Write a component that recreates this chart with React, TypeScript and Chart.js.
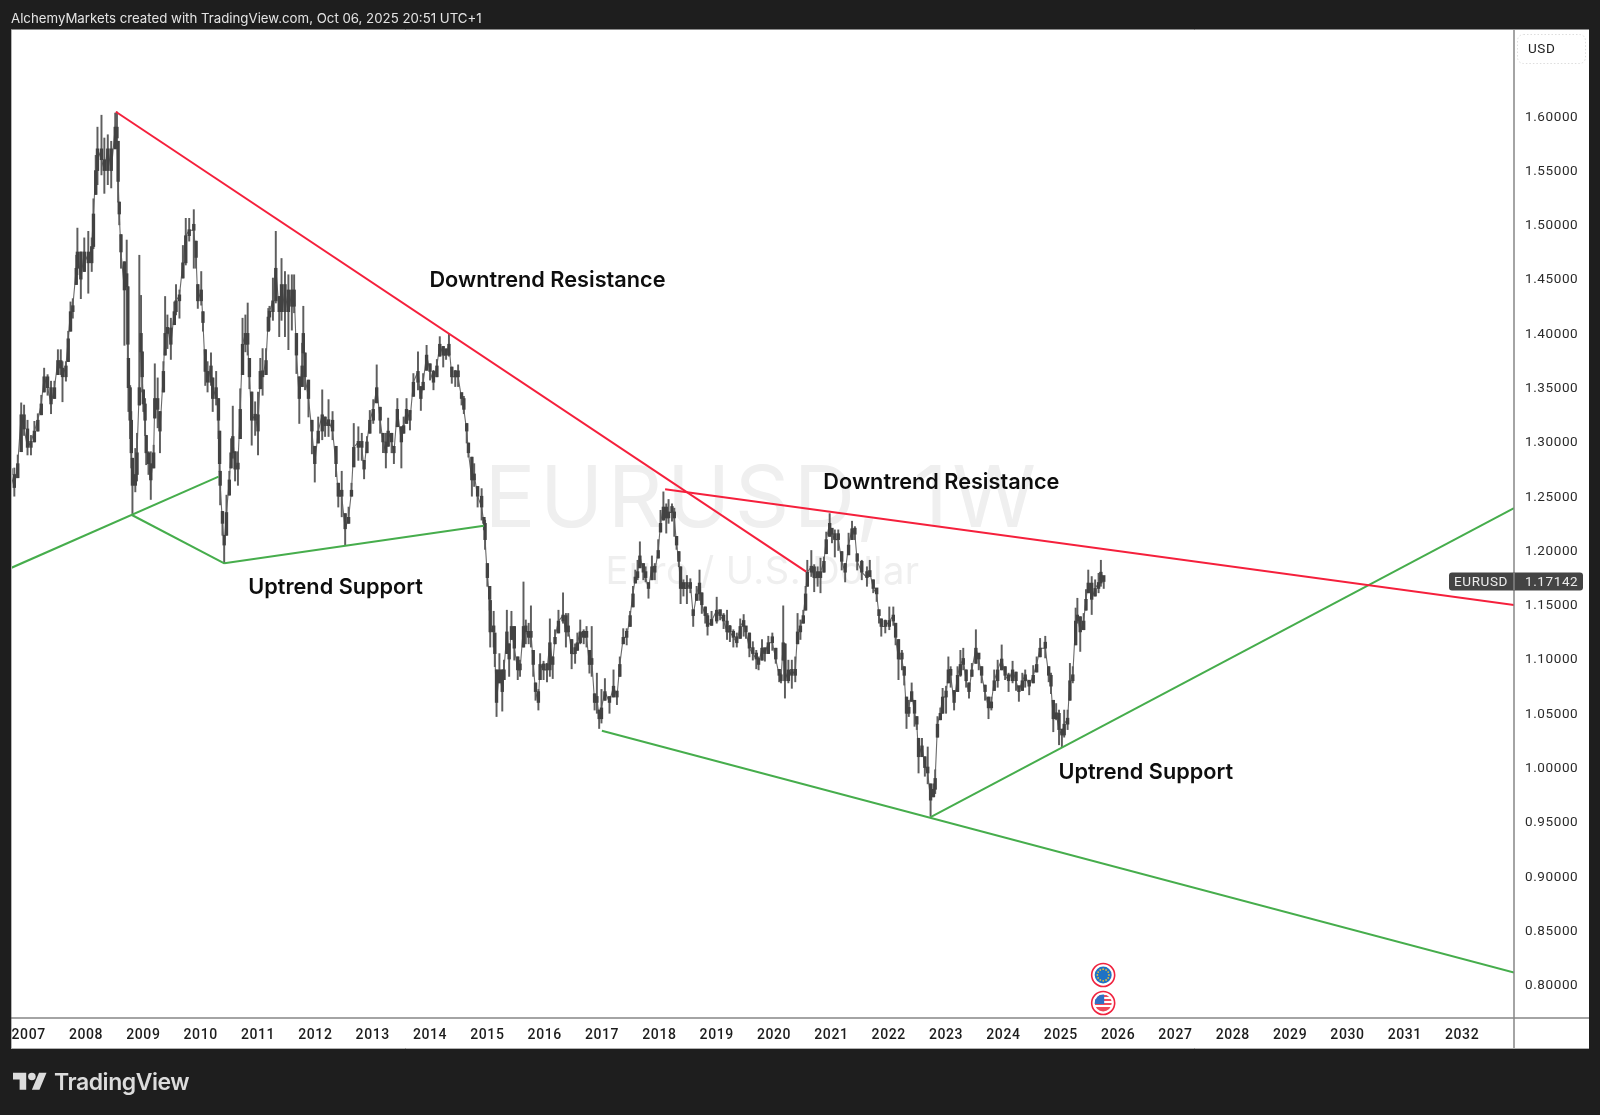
import React, { useEffect, useRef } from "react";
import { Chart, registerables } from "chart.js";

Chart.register(...registerables);

// Weekly-chart readings: [date as decimal year, high, low, close]
const bars2006to2007 = [
  [2006.69,1.282,1.260,1.270],[2006.75,1.276,1.250,1.258],[2006.81,1.288,1.267,1.280],[2006.87,1.336,1.291,1.325],[2006.92,1.334,1.306,1.312],[2006.98,1.320,1.288,1.295],
  [2007.04,1.306,1.288,1.300],[2007.10,1.319,1.300,1.310],[2007.16,1.326,1.310,1.320],[2007.22,1.343,1.325,1.335],[2007.27,1.368,1.346,1.360],[2007.33,1.362,1.343,1.350],
  [2007.39,1.356,1.326,1.335],[2007.45,1.356,1.340,1.350],[2007.51,1.385,1.362,1.375],[2007.56,1.385,1.362,1.368],[2007.59,1.374,1.337,1.360],[2007.65,1.374,1.356,1.370],
  [2007.69,1.402,1.374,1.395],[2007.73,1.429,1.402,1.420],[2007.77,1.432,1.414,1.425],[2007.83,1.472,1.445,1.460],[2007.85,1.497,1.454,1.475],[2007.91,1.475,1.432,1.450],[2007.97,1.488,1.457,1.475],
];
const bars2008 = [
  [2008.04,1.494,1.437,1.465],[2008.10,1.488,1.457,1.480],[2008.13,1.524,1.478,1.510],[2008.17,1.564,1.528,1.550],[2008.20,1.590,1.537,1.570],[2008.27,1.601,1.546,1.560],
  [2008.32,1.580,1.529,1.550],[2008.38,1.583,1.537,1.570],[2008.44,1.577,1.534,1.550],[2008.51,1.603,1.570,1.590],[2008.54,1.604,1.577,1.580],[2008.56,1.577,1.521,1.540],
  [2008.58,1.521,1.500,1.510],[2008.61,1.491,1.460,1.475],[2008.67,1.466,1.389,1.440],[2008.71,1.486,1.443,1.455],[2008.73,1.443,1.377,1.390],[2008.74,1.377,1.328,1.350],
  [2008.77,1.352,1.303,1.320],[2008.79,1.328,1.276,1.290],[2008.81,1.285,1.234,1.260],[2008.86,1.294,1.254,1.270],[2008.89,1.308,1.264,1.290],[2008.93,1.472,1.334,1.350],[2008.96,1.435,1.383,1.400],[2008.98,1.383,1.346,1.360],
];
const bars2009 = [
  [2009.00,1.348,1.328,1.335],[2009.03,1.340,1.306,1.320],[2009.05,1.306,1.279,1.290],[2009.09,1.291,1.270,1.280],[2009.13,1.291,1.247,1.265],[2009.18,1.297,1.276,1.290],
  [2009.20,1.372,1.322,1.340],[2009.25,1.359,1.313,1.330],[2009.29,1.328,1.290,1.310],[2009.35,1.374,1.346,1.365],[2009.38,1.434,1.380,1.400],[2009.42,1.417,1.386,1.405],
  [2009.48,1.414,1.376,1.390],[2009.54,1.429,1.408,1.420],[2009.57,1.445,1.417,1.430],[2009.63,1.440,1.414,1.435],[2009.69,1.481,1.451,1.465],[2009.74,1.506,1.463,1.490],
  [2009.80,1.506,1.485,1.495],[2009.88,1.514,1.460,1.495],[2009.92,1.485,1.460,1.470],[2009.95,1.445,1.423,1.430],
];
const bars2010 = [
  [2010.01,1.457,1.426,1.440],[2010.04,1.420,1.402,1.410],[2010.08,1.385,1.352,1.365],[2010.12,1.374,1.346,1.355],[2010.18,1.382,1.352,1.370],[2010.21,1.359,1.328,1.340],
  [2010.27,1.365,1.334,1.350],[2010.31,1.340,1.303,1.320],[2010.33,1.310,1.273,1.280],[2010.34,1.273,1.242,1.260],[2010.38,1.236,1.214,1.225],[2010.41,1.214,1.188,1.205],
  [2010.45,1.251,1.214,1.235],[2010.50,1.273,1.251,1.265],[2010.53,1.303,1.276,1.290],[2010.56,1.333,1.285,1.305],[2010.60,1.291,1.264,1.275],[2010.65,1.291,1.260,1.280],
  [2010.69,1.349,1.303,1.330],[2010.73,1.414,1.362,1.390],[2010.78,1.417,1.383,1.400],[2010.82,1.428,1.380,1.390],[2010.85,1.377,1.349,1.360],[2010.89,1.346,1.297,1.320],[2010.95,1.337,1.306,1.325],
];
const bars2011 = [
  [2011.00,1.346,1.288,1.310],[2011.04,1.377,1.349,1.365],[2011.08,1.386,1.343,1.360],[2011.14,1.386,1.362,1.375],[2011.18,1.423,1.402,1.415],[2011.20,1.425,1.403,1.420],
  [2011.26,1.451,1.412,1.430],[2011.31,1.494,1.428,1.460],[2011.37,1.434,1.397,1.420],[2011.41,1.469,1.412,1.445],[2011.47,1.457,1.397,1.420],[2011.53,1.454,1.385,1.440],
  [2011.59,1.454,1.403,1.425],[2011.63,1.454,1.419,1.440],[2011.67,1.400,1.363,1.380],[2011.72,1.360,1.317,1.340],[2011.77,1.391,1.351,1.370],[2011.79,1.425,1.382,1.400],
  [2011.82,1.382,1.348,1.360],[2011.88,1.357,1.323,1.340],[2011.94,1.320,1.289,1.310],[2011.99,1.296,1.263,1.280],
];
const bars2012 = [
  [2012.05,1.323,1.299,1.310],[2012.12,1.348,1.302,1.325],[2012.17,1.323,1.305,1.315],[2012.23,1.339,1.305,1.320],[2012.30,1.328,1.302,1.310],[2012.36,1.296,1.268,1.280],
  [2012.40,1.262,1.240,1.250],[2012.46,1.273,1.231,1.250],[2012.52,1.234,1.205,1.220],[2012.58,1.240,1.225,1.230],[2012.63,1.262,1.250,1.255],[2012.67,1.317,1.277,1.295],
  [2012.75,1.314,1.283,1.300],[2012.81,1.308,1.283,1.295],[2012.85,1.283,1.266,1.275],[2012.90,1.305,1.290,1.300],[2012.95,1.329,1.308,1.320],
];
const bars2013 = [
  [2013.01,1.339,1.317,1.330],[2013.07,1.371,1.336,1.350],[2013.13,1.332,1.308,1.320],[2013.18,1.308,1.290,1.300],[2013.23,1.308,1.276,1.290],[2013.27,1.322,1.296,1.310],
  [2013.33,1.308,1.290,1.300],[2013.37,1.296,1.280,1.290],[2013.43,1.340,1.314,1.330],[2013.50,1.314,1.276,1.300],[2013.54,1.323,1.308,1.315],[2013.59,1.340,1.317,1.330],
  [2013.65,1.329,1.311,1.320],[2013.71,1.363,1.342,1.355],[2013.79,1.383,1.348,1.365],[2013.84,1.351,1.329,1.340],[2013.88,1.363,1.348,1.355],[2013.94,1.389,1.366,1.380],
];
const bars2014 = [
  [2014.00,1.372,1.357,1.365],[2014.06,1.366,1.348,1.355],[2014.12,1.376,1.360,1.370],[2014.17,1.397,1.379,1.390],[2014.23,1.388,1.369,1.380],[2014.28,1.386,1.376,1.380],
  [2014.33,1.400,1.379,1.390],[2014.38,1.369,1.354,1.360],[2014.44,1.366,1.351,1.360],[2014.49,1.371,1.351,1.360],[2014.55,1.345,1.334,1.340],[2014.59,1.342,1.326,1.330],
  [2014.64,1.317,1.299,1.310],[2014.67,1.299,1.286,1.290],[2014.73,1.286,1.250,1.265],[2014.77,1.280,1.259,1.270],[2014.83,1.259,1.240,1.250],[2014.90,1.257,1.228,1.240],[2014.94,1.228,1.219,1.225],[2014.96,1.228,1.201,1.210],
];
const bars2015 = [
  [2015.00,1.188,1.167,1.175],[2015.04,1.167,1.145,1.155],[2015.05,1.154,1.111,1.125],[2015.11,1.144,1.111,1.130],[2015.13,1.124,1.093,1.105],[2015.16,1.090,1.047,1.060],
  [2015.21,1.105,1.078,1.090],[2015.26,1.090,1.052,1.070],[2015.29,1.099,1.081,1.090],[2015.34,1.145,1.105,1.125],[2015.38,1.114,1.084,1.100],[2015.42,1.144,1.118,1.130],
  [2015.47,1.130,1.099,1.110],[2015.53,1.102,1.081,1.090],[2015.57,1.099,1.084,1.090],[2015.63,1.171,1.111,1.130],[2015.67,1.136,1.114,1.125],[2015.72,1.133,1.114,1.120],
  [2015.76,1.149,1.111,1.125],[2015.80,1.108,1.084,1.095],[2015.84,1.078,1.062,1.070],[2015.89,1.072,1.053,1.060],[2015.92,1.105,1.081,1.095],[2015.98,1.098,1.081,1.090],
];
const bars2016 = [
  [2016.04,1.096,1.079,1.090],[2016.09,1.137,1.084,1.115],[2016.14,1.102,1.082,1.095],[2016.18,1.127,1.114,1.120],[2016.24,1.145,1.124,1.135],[2016.32,1.161,1.133,1.140],
  [2016.37,1.142,1.111,1.125],[2016.41,1.142,1.121,1.130],[2016.47,1.118,1.091,1.105],[2016.53,1.114,1.096,1.105],[2016.57,1.124,1.108,1.115],[2016.62,1.136,1.114,1.125],
  [2016.68,1.127,1.114,1.120],[2016.73,1.130,1.111,1.120],[2016.78,1.108,1.087,1.095],[2016.82,1.130,1.084,1.100],[2016.87,1.068,1.053,1.060],[2016.91,1.087,1.050,1.065],[2016.95,1.053,1.036,1.045],[2016.99,1.072,1.041,1.055],
];
const bars2017 = [
  [2017.05,1.082,1.062,1.070],[2017.13,1.065,1.050,1.060],[2017.20,1.090,1.065,1.075],[2017.26,1.068,1.058,1.065],[2017.31,1.102,1.084,1.095],[2017.37,1.128,1.114,1.120],
  [2017.43,1.128,1.113,1.120],[2017.49,1.144,1.130,1.140],[2017.54,1.167,1.148,1.160],[2017.58,1.182,1.170,1.175],[2017.62,1.191,1.173,1.180],[2017.66,1.208,1.184,1.195],
  [2017.72,1.188,1.173,1.180],[2017.76,1.185,1.171,1.175],[2017.81,1.170,1.156,1.165],[2017.87,1.195,1.173,1.185],[2017.92,1.188,1.173,1.180],[2017.98,1.210,1.193,1.200],
];
const bars2018 = [
  [2018.02,1.237,1.217,1.225],[2018.07,1.254,1.228,1.240],[2018.12,1.243,1.216,1.230],[2018.16,1.247,1.225,1.235],[2018.22,1.243,1.227,1.235],[2018.26,1.239,1.213,1.230],
  [2018.30,1.213,1.201,1.205],[2018.34,1.199,1.185,1.190],[2018.37,1.185,1.151,1.165],[2018.42,1.173,1.158,1.165],[2018.48,1.177,1.151,1.165],[2018.54,1.174,1.161,1.170],
  [2018.59,1.145,1.130,1.140],[2018.65,1.167,1.154,1.160],[2018.70,1.182,1.154,1.170],[2018.74,1.161,1.142,1.150],[2018.80,1.148,1.133,1.140],[2018.84,1.142,1.122,1.130],[2018.91,1.144,1.131,1.135],
];
const bars2019 = [
  [2019.00,1.157,1.133,1.145],[2019.06,1.145,1.136,1.140],[2019.12,1.142,1.128,1.135],[2019.18,1.145,1.118,1.125],[2019.23,1.131,1.116,1.125],[2019.29,1.127,1.111,1.120],
  [2019.35,1.124,1.111,1.115],[2019.41,1.137,1.119,1.130],[2019.47,1.141,1.121,1.135],[2019.51,1.130,1.119,1.125],[2019.57,1.124,1.102,1.110],[2019.63,1.116,1.099,1.105],
  [2019.69,1.108,1.091,1.100],[2019.73,1.102,1.090,1.095],[2019.79,1.118,1.099,1.110],[2019.84,1.108,1.098,1.105],[2019.90,1.121,1.105,1.115],[2019.97,1.124,1.108,1.115],
];
const bars2020 = [
  [2020.03,1.110,1.096,1.100],[2020.09,1.090,1.079,1.085],[2020.12,1.087,1.078,1.080],[2020.16,1.149,1.099,1.115],[2020.19,1.114,1.064,1.080],[2020.25,1.099,1.078,1.090],
  [2020.31,1.099,1.073,1.085],[2020.37,1.102,1.079,1.090],[2020.41,1.142,1.114,1.125],[2020.46,1.136,1.118,1.130],[2020.51,1.145,1.133,1.140],[2020.55,1.167,1.145,1.160],
  [2020.58,1.191,1.167,1.180],[2020.65,1.200,1.176,1.185],[2020.70,1.187,1.162,1.175],[2020.76,1.185,1.167,1.175],[2020.81,1.193,1.161,1.180],[2020.87,1.194,1.180,1.190],[2020.91,1.217,1.197,1.210],[2020.97,1.234,1.213,1.225],
];
const bars2021 = [
  [2021.01,1.217,1.207,1.215],[2021.06,1.219,1.194,1.210],[2021.12,1.219,1.200,1.210],[2021.18,1.199,1.182,1.190],[2021.24,1.188,1.171,1.180],[2021.30,1.216,1.196,1.205],
  [2021.36,1.227,1.210,1.220],[2021.41,1.222,1.210,1.215],[2021.45,1.197,1.182,1.190],[2021.53,1.191,1.173,1.180],[2021.62,1.185,1.167,1.175],[2021.67,1.191,1.176,1.180],
  [2021.73,1.173,1.161,1.165],[2021.79,1.164,1.153,1.160],[2021.83,1.145,1.133,1.140],[2021.87,1.137,1.121,1.130],[2021.94,1.136,1.124,1.130],
];
const bars2022 = [
  [2022.01,1.148,1.127,1.135],[2022.08,1.148,1.131,1.140],[2022.12,1.133,1.113,1.120],[2022.17,1.118,1.081,1.100],[2022.23,1.108,1.090,1.100],[2022.27,1.093,1.076,1.085],
  [2022.31,1.065,1.036,1.050],[2022.35,1.062,1.047,1.055],[2022.40,1.078,1.061,1.070],[2022.45,1.062,1.038,1.050],[2022.49,1.047,1.035,1.040],[2022.52,1.027,0.995,1.010],
  [2022.58,1.027,1.010,1.020],[2022.63,1.010,0.992,1.000],[2022.68,1.019,0.985,0.995],[2022.73,0.985,0.955,0.970],[2022.78,0.985,0.973,0.980],[2022.81,0.998,0.976,0.990],
  [2022.85,1.047,1.028,1.040],[2022.90,1.055,1.044,1.050],[2022.94,1.073,1.050,1.065],
];
const bars2023 = [
  [2023.00,1.075,1.050,1.065],[2023.04,1.102,1.078,1.090],[2023.08,1.093,1.074,1.085],[2023.14,1.071,1.053,1.060],[2023.20,1.093,1.070,1.085],[2023.25,1.108,1.084,1.095],
  [2023.30,1.110,1.090,1.100],[2023.35,1.090,1.074,1.080],[2023.40,1.078,1.064,1.070],[2023.45,1.096,1.084,1.090],[2023.52,1.127,1.096,1.110],[2023.57,1.105,1.090,1.100],
  [2023.62,1.093,1.078,1.085],[2023.68,1.076,1.062,1.070],[2023.74,1.065,1.045,1.055],[2023.79,1.065,1.053,1.060],[2023.84,1.090,1.071,1.080],[2023.90,1.099,1.074,1.090],[2023.97,1.113,1.090,1.100],
];
const bars2024 = [
  [2024.03,1.093,1.081,1.085],[2024.09,1.087,1.070,1.080],[2024.16,1.098,1.078,1.090],[2024.22,1.088,1.071,1.080],[2024.27,1.074,1.061,1.070],[2024.33,1.087,1.071,1.080],
  [2024.38,1.090,1.074,1.085],[2024.45,1.078,1.067,1.075],[2024.52,1.094,1.078,1.085],[2024.58,1.102,1.088,1.095],[2024.64,1.119,1.102,1.110],[2024.73,1.121,1.101,1.110],
  [2024.79,1.093,1.079,1.085],[2024.83,1.087,1.068,1.075],[2024.87,1.062,1.033,1.045],[2024.92,1.059,1.044,1.050],[2024.97,1.053,1.021,1.035],
];
const bars2025 = [
  [2025.02,1.035,1.019,1.030],[2025.06,1.053,1.028,1.040],[2025.12,1.053,1.035,1.045],[2025.16,1.096,1.062,1.080],[2025.21,1.093,1.078,1.085],[2025.26,1.147,1.113,1.135],
  [2025.29,1.156,1.133,1.140],[2025.34,1.139,1.107,1.125],[2025.40,1.142,1.127,1.135],[2025.44,1.164,1.145,1.155],[2025.48,1.182,1.161,1.170],[2025.54,1.176,1.141,1.155],
  [2025.60,1.173,1.158,1.165],[2025.66,1.179,1.161,1.170],[2025.70,1.191,1.167,1.180],[2025.75,1.174,1.165,1.17142],
];

const yearTicks = [2007,2008,2009,2010,2011,2012,2013,2014,2015,2016,2017,2018,2019,2020,2021,2022,2023,2024,2025,2026,2027,2028,2029,2030,2031,2032];
const priceTicks = [0.8,0.85,0.9,0.95,1.0,1.05,1.1,1.15,1.2,1.25,1.3,1.35,1.4,1.45,1.5,1.55,1.6];

const xRange = [2006.692, 2032.905];
const yRange = [0.7693, 1.6795];
const lastPrice = 1.17142;
const symbol = "EURUSD";
const currency = "USD";

// Trend lines, [date, price] at each end
const redLine1 = [[2008.52, 1.6042], [2020.56, 1.1805]];
const redLine2 = [[2018.10, 1.2564], [2032.905, 1.1498]];
const greenLine1 = [[2006.692, 1.1839], [2010.313, 1.268]];
const greenLine2 = [[2008.80, 1.2327], [2010.412, 1.1882]];
const greenLine3 = [[2010.412, 1.1882], [2014.94, 1.2228]];
const greenLine4 = [[2016.997, 1.034], [2032.905, 0.8112]];
const greenLine5 = [[2022.73, 0.9543], [2032.905, 1.239]];

// Notes: [text, date of left edge, price of middle]
const noteList: [string, number, number][] = [
  ["Downtrend Resistance", 2013.99, 1.4486],
  ["Uptrend Support", 2010.83, 1.1656],
  ["Downtrend Resistance", 2020.86, 1.2627],
  ["Uptrend Support", 2024.96, 0.9953],
];

const eventDate = 2025.74;

const RED = "#f5203c";
const GREEN = "#46ad4c";
const BODY = "#424242";
const WICK = "#5e5e5e";
const FONT = "Inter, 'Liberation Sans', sans-serif";
const AXIS_FONT = "Roboto, 'Liberation Sans', sans-serif";

const allBars = [
  ...bars2006to2007, ...bars2008, ...bars2009, ...bars2010, ...bars2011, ...bars2012, ...bars2013,
  ...bars2014, ...bars2015, ...bars2016, ...bars2017, ...bars2018, ...bars2019, ...bars2020,
  ...bars2021, ...bars2022, ...bars2023, ...bars2024, ...bars2025,
];

const lineSet = (pts: number[][], color: string) => ({
  type: "line" as const,
  data: pts.map(([x, y]) => ({ x, y })),
  borderColor: color,
  borderWidth: 2,
  pointRadius: 0,
  tension: 0,
  order: 0,
  fill: false,
});

function ring(ctx: CanvasRenderingContext2D, x: number, y: number) {
  ctx.fillStyle = "#ffffff";
  ctx.beginPath();
  ctx.arc(x, y, 11.5, 0, Math.PI * 2);
  ctx.fill();
  ctx.strokeStyle = "#f0233f";
  ctx.lineWidth = 1.6;
  ctx.stroke();
}

function drawEu(ctx: CanvasRenderingContext2D, x: number, y: number) {
  ring(ctx, x, y);
  ctx.fillStyle = "#1f72c4";
  ctx.beginPath();
  ctx.arc(x, y, 8.5, 0, Math.PI * 2);
  ctx.fill();
  ctx.fillStyle = "#e2b93b";
  for (let i = 0; i < 12; i++) {
    const a = (i * Math.PI) / 6;
    ctx.beginPath();
    ctx.arc(x + Math.cos(a) * 5.8, y + Math.sin(a) * 5.8, 0.9, 0, Math.PI * 2);
    ctx.fill();
  }
}

function drawUs(ctx: CanvasRenderingContext2D, x: number, y: number) {
  ring(ctx, x, y);
  ctx.save();
  ctx.beginPath();
  ctx.arc(x, y, 8.5, 0, Math.PI * 2);
  ctx.clip();
  ctx.fillStyle = "#ffffff";
  ctx.fillRect(x - 9, y - 9, 18, 18);
  ctx.fillStyle = "#ee4a5a";
  [-8, -4, 0, 4].forEach((o) => ctx.fillRect(x - 9, y + o, 18, 2));
  ctx.fillRect(x - 9, y + 6, 18, 3);
  ctx.fillStyle = "#2f6fc4";
  ctx.fillRect(x - 9, y - 9, 10, 10);
  ctx.restore();
}

const decor = {
  id: "decor",
  beforeDraw(chart: any) {
    const { ctx, chartArea: a } = chart;
    ctx.save();
    ctx.fillStyle = "#ffffff";
    ctx.fillRect(a.left, a.top, 1589 - a.left, 1048 - a.top);
    const cx = (a.left + a.right) / 2;
    ctx.textAlign = "center";
    ctx.textBaseline = "middle";
    ctx.fillStyle = "#efefef";
    ctx.font = `400 85px ${FONT}`;
    ctx.letterSpacing = "4.5px";
    ctx.fillText(`${symbol}, 1W`, cx, 501);
    ctx.font = `400 38px ${FONT}`;
    ctx.letterSpacing = "0.5px";
    ctx.fillText("Euro / U.S. Dollar", cx, 573);
    ctx.restore();
    // Tick labels are drawn next and keep this spacing.
    ctx.letterSpacing = "0.6px";
  },
  beforeDatasetsDraw(chart: any) {
    chart.ctx.letterSpacing = "0px";
  },
  afterDatasetsDraw(chart: any) {
    const { ctx, chartArea: a, scales } = chart;
    const xs = scales.x;
    const ys = scales.y;
    ctx.save();
    // frame
    ctx.strokeStyle = "#8c8c8c";
    ctx.lineWidth = 1;
    ctx.beginPath();
    ctx.moveTo(a.left, a.top - 0.5);
    ctx.lineTo(1589, a.top - 0.5);
    ctx.stroke();
    ctx.strokeStyle = "#b5b5b5";
    ctx.beginPath();
    ctx.moveTo(a.left + 0.5, a.top);
    ctx.lineTo(a.left + 0.5, 1048);
    ctx.stroke();
    ctx.strokeStyle = "#b0b0b0";
    ctx.beginPath();
    ctx.moveTo(a.left, 1048.5);
    ctx.lineTo(1589, 1048.5);
    ctx.stroke();
    ctx.strokeStyle = "#4a4a4a";
    ctx.lineWidth = 1.2;
    ctx.beginPath();
    ctx.moveTo(a.left, a.bottom);
    ctx.lineTo(1589, a.bottom);
    ctx.stroke();
    ctx.strokeStyle = "#868686";
    ctx.lineWidth = 1.5;
    ctx.beginPath();
    ctx.moveTo(a.right, a.top);
    ctx.lineTo(a.right, 1048);
    ctx.stroke();

    // notes
    ctx.fillStyle = "#0e0e0e";
    ctx.font = `600 21.7px ${FONT}`;
    ctx.textAlign = "left";
    ctx.textBaseline = "middle";
    noteList.forEach(([t, d, p]) => ctx.fillText(t, xs.getPixelForValue(d), ys.getPixelForValue(p)));

    // currency box
    ctx.setLineDash([1.5, 2]);
    ctx.strokeStyle = "#dddddd";
    ctx.lineWidth = 1;
    ctx.beginPath();
    ctx.roundRect(a.right + 3.5, 34.5, 68, 29, 6);
    ctx.stroke();
    ctx.setLineDash([]);
    ctx.fillStyle = "#222222";
    ctx.font = `400 13.5px ${AXIS_FONT}`;
    ctx.letterSpacing = "0.6px";
    ctx.fillText(currency, a.right + 14, 49.5);

    // last-price tag
    const py = ys.getPixelForValue(lastPrice);
    ctx.fillStyle = "rgba(62,62,62,0.97)";
    ctx.beginPath();
    ctx.roundRect(a.right - 65, py - 9, 134, 18, 3);
    ctx.fill();
    ctx.strokeStyle = "rgba(150,150,150,0.8)";
    ctx.lineWidth = 1.5;
    ctx.beginPath();
    ctx.moveTo(a.right, py - 9);
    ctx.lineTo(a.right, py + 9);
    ctx.stroke();
    ctx.fillStyle = "#ececec";
    ctx.textAlign = "left";
    ctx.fillText(symbol, a.right - 60, py + 1);
    ctx.fillText(lastPrice.toFixed(5), a.right + 11, py + 1);
    ctx.letterSpacing = "0px";

    // events
    const ex = xs.getPixelForValue(eventDate);
    drawEu(ctx, ex, a.bottom - 43);
    drawUs(ctx, ex, a.bottom - 15);
    ctx.restore();
  },
};

export default function App() {
  const ref = useRef<HTMLCanvasElement>(null);
  useEffect(() => {
    document.body.style.margin = "0";
    document.body.style.background = "#1e1e1e";
    const opens = allBars.map((b, i) => {
      const prev = i === 0 ? b[3] : allBars[i - 1][3];
      return Math.min(b[1], Math.max(b[2], prev));
    });
    const chart = new Chart(ref.current!, {
      type: "bar",
      data: {
        datasets: [
          ...[redLine1, redLine2].map((l) => lineSet(l, RED)),
          ...[greenLine1, greenLine2, greenLine3, greenLine4, greenLine5].map((l) => lineSet(l, GREEN)),
          {
            data: allBars.map((b, i) => ({ x: b[0], y: [opens[i], b[3]] })),
            backgroundColor: BODY,
            barThickness: 2.7,
            minBarLength: 6,
            grouped: false,
            order: 1,
          },
          {
            data: allBars.map((b) => ({ x: b[0], y: [b[2], b[1]] })),
            backgroundColor: WICK,
            barThickness: 1.3,
            grouped: false,
            order: 2,
          },
          {
            type: "line",
            data: allBars.map((b) => ({ x: b[0], y: b[3] })),
            borderColor: "#6a6a6a",
            borderWidth: 1.1,
            pointRadius: 0,
            tension: 0,
            fill: false,
            order: 3,
          },
        ] as any,
      },
      options: {
        responsive: false,
        animation: false,
        devicePixelRatio: 1,
        layout: { padding: { left: 11, top: 30, right: 11, bottom: 67 } },
        plugins: { legend: { display: false }, tooltip: { enabled: false }, title: { display: false } },
        scales: {
          x: {
            type: "linear",
            offset: false,
            min: xRange[0],
            max: xRange[1],
            grid: { display: false, drawTicks: false },
            border: { display: false },
            afterBuildTicks: (s: any) => { s.ticks = yearTicks.map((value) => ({ value })); },
            afterFit: (s: any) => { s.height = 30; },
            ticks: {
              autoSkip: false,
              maxRotation: 0,
              padding: 9,
              color: "#1c1c1c",
              font: { family: AXIS_FONT, size: 14, weight: "500" },
              callback: (v: any) => String(v),
            },
          },
          y: {
            type: "linear",
            position: "right",
            min: yRange[0],
            max: yRange[1],
            grid: { display: false, drawTicks: false },
            border: { display: false },
            afterBuildTicks: (s: any) => { s.ticks = priceTicks.map((value) => ({ value })); },
            afterFit: (s: any) => { s.width = 75; },
            ticks: {
              padding: 11,
              labelOffset: 1,
              color: "#2a2a2a",
              font: { family: AXIS_FONT, size: 13.5, weight: "400" },
              callback: (v: any) => Number(v).toFixed(5),
            },
          },
        },
      } as any,
      plugins: [decor],
    });
    return () => chart.destroy();
  }, []);

  return (
    <div style={{ position: "absolute", left: 0, top: 0, width: 1600, height: 1115, background: "#1e1e1e", overflow: "hidden" }}>
      <canvas ref={ref} width={1600} height={1115} style={{ display: "block", width: 1600, height: 1115 }} />
      <div style={{ position: "absolute", left: 11, top: 10, color: "#e4e4e4", font: `400 13.25px ${FONT}`, whiteSpace: "nowrap" }}>
        AlchemyMarkets created with TradingView.com, Oct 06, 2025 20:51 UTC+1
      </div>
      <svg style={{ position: "absolute", left: 13, top: 1069 }} width="34" height="26.5" viewBox="0 0 36 28">
        <path fill="#dcdcdc" d="M14 22H7V11H0V4h14v18zM28 22h-8l7.5-18h8L28 22z" />
        <circle fill="#dcdcdc" cx="20" cy="8" r="4" />
      </svg>
      <div style={{ position: "absolute", left: 54, top: 1068, color: "#dcdcdc", font: `600 23px ${FONT}`, letterSpacing: "-0.45px", whiteSpace: "nowrap" }}>
        TradingView
      </div>
    </div>
  );
}
